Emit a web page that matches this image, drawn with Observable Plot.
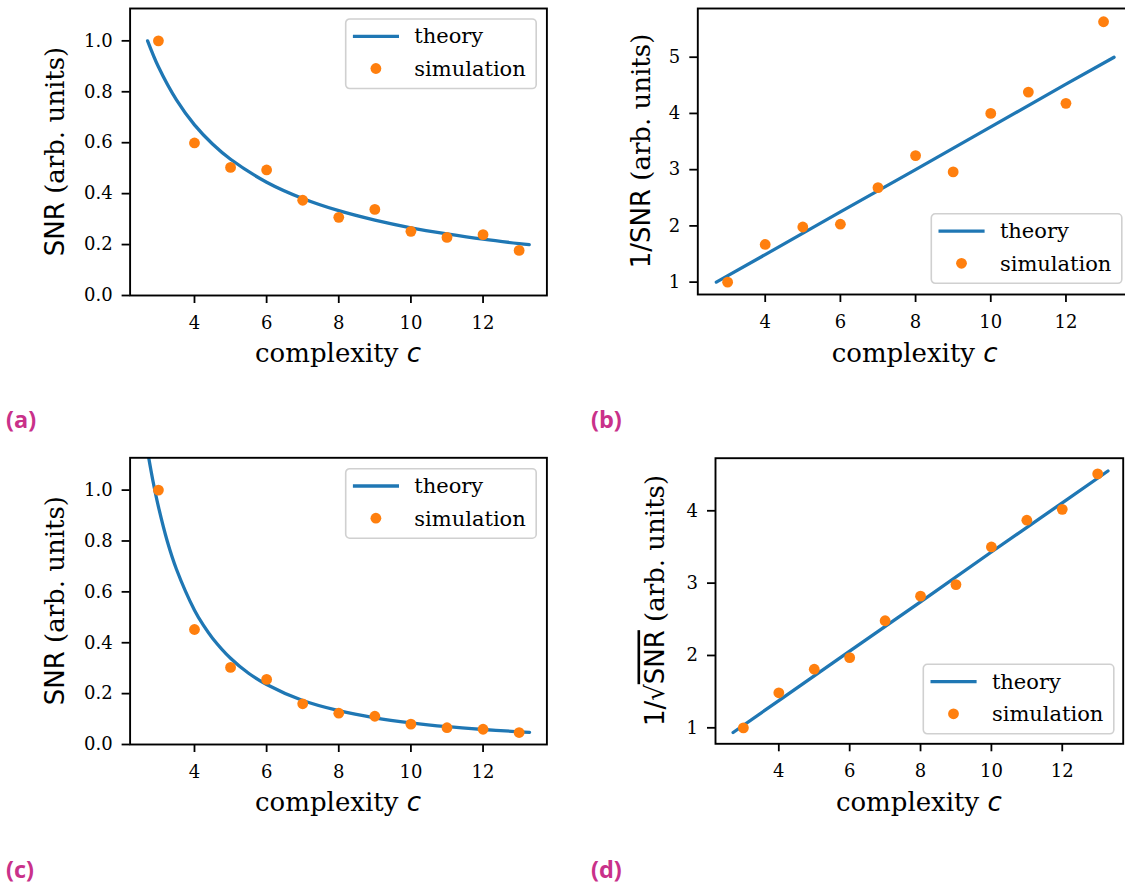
<!DOCTYPE html>
<html>
<head>
<meta charset="utf-8">
<script src="https://cdn.jsdelivr.net/npm/d3@7"></script>
<script src="https://cdn.jsdelivr.net/npm/@observablehq/plot@0.6"></script>
<style>
  html, body { margin: 0; padding: 0; background: #fff; }
  #page { position: relative; width: 1125px; height: 888px; overflow: hidden; background: #fff; }
  .panel { position: absolute; }
  .panel svg { overflow: visible; max-width: none !important; }
  .tag { position: absolute; font-family: "Open Sans", "DejaVu Sans", sans-serif; font-weight: 700; font-size: 23.5px; color: #c9318a; line-height: 1; }
</style>
</head>
<body>
<div id="page"></div>
<script>
// ---------------- data ----------------
const complexity = [3, 4, 5, 6, 7, 8, 9, 10, 11, 12, 13];

// (a) SNR
const snrSimA = [1.0, 0.599, 0.503, 0.493, 0.374, 0.307, 0.338, 0.252, 0.228, 0.239, 0.177];
const theoryCA = [2.70, 3, 3.5, 4, 4.5, 5, 6, 7, 8, 9, 10, 11, 12, 13, 13.28];
const snrTheoryA = [1.0, 0.898, 0.768, 0.670, 0.595, 0.535, 0.445, 0.381, 0.333, 0.296, 0.266, 0.242, 0.221, 0.204, 0.200];

// (b) 1/SNR
const invSnrSimB = [1.0, 1.67, 1.98, 2.03, 2.68, 3.25, 2.96, 4.0, 4.38, 4.18, 5.63];
const theoryCB = [2.70, 4, 6, 8, 10, 12, 13.28];
const invSnrTheoryB = [1.0, 1.49, 2.25, 3.0, 3.76, 4.52, 5.0];

// (c) SNR
const snrSimC = [1.0, 0.452, 0.303, 0.256, 0.160, 0.123, 0.111, 0.080, 0.066, 0.060, 0.047];
const theoryCC = [2.71, 2.85, 3, 3.25, 3.5, 4, 4.25, 4.5, 5, 5.5, 6, 7, 8, 9, 10, 11, 12, 13, 13.29];
const snrTheoryC = [1.144, 1.035, 0.935, 0.797, 0.689, 0.528, 0.468, 0.418, 0.339, 0.280, 0.236, 0.173, 0.133, 0.105, 0.085, 0.070, 0.059, 0.050, 0.048];

// (d) 1/sqrt(SNR)
const invSqrtSimD = [1.0, 1.484, 1.81, 1.97, 2.48, 2.82, 2.98, 3.50, 3.87, 4.02, 4.51];
const theoryCD = [2.71, 4, 6, 8, 10, 12, 13.29];
const invSqrtTheoryD = [0.935, 1.376, 2.06, 2.74, 3.43, 4.11, 4.55];

// ticks
const xTicks = [4, 6, 8, 10, 12];
const snrTicks = [0, 0.2, 0.4, 0.6, 0.8, 1.0];
const invSnrTicks = [1, 2, 3, 4, 5];
const invSqrtTicks = [1, 2, 3, 4];

const legendLabels = ["theory", "simulation"];
const panelTags = ["(a)", "(b)", "(c)", "(d)"];

// ---------------- drawing ----------------
const BLUE = "#1f77b4", ORANGE = "#ff7f0e";
const page = document.getElementById("page");

function zipXY(xs, ys) { return xs.map((x, i) => ({x, y: ys[i]})); }

function makePanel(cfg) {
  const sim = zipXY(complexity, cfg.simY);
  const theory = zipXY(cfg.theoryX, cfg.theoryY);
  const plot = Plot.plot({
    width: cfg.width, height: cfg.height,
    marginLeft: cfg.ml, marginRight: cfg.mr, marginTop: cfg.mt, marginBottom: cfg.mb,
    style: {fontFamily: "DejaVu Serif", fontSize: "18px", color: "#000", background: "transparent", overflow: "visible", maxWidth: "none"},
    x: {domain: cfg.xDomain},
    y: {domain: cfg.yDomain},
    marks: [
      Plot.axisX({ticks: xTicks, tickSize: 8, tickPadding: 12.5, strokeWidth: 1.8, label: null, tickFormat: d3.format("d"), fontSize: 18}),
      Plot.axisY({ticks: cfg.yTicks, tickSize: 8, tickPadding: 9.5, strokeWidth: 1.8, label: null, tickFormat: cfg.yFormat, fontSize: 18}),
      Plot.line(theory, {x: "x", y: "y", stroke: BLUE, strokeWidth: 3.3, curve: cfg.curve, clip: true}),
      Plot.dot(sim, {x: "x", y: "y", r: 5.4, fill: ORANGE, stroke: "none"}),
      Plot.frame({stroke: "#000", strokeWidth: 1.9})
    ]
  });
  const div = document.createElement("div");
  div.className = "panel";
  div.style.left = cfg.left + "px";
  div.style.top = cfg.top + "px";
  div.appendChild(plot);
  page.appendChild(div);

  const svg = d3.select(plot);
  // legend
  const lg = svg.append("g").attr("transform", `translate(${cfg.legend[0]},${cfg.legend[1]})`);
  lg.append("rect").attr("width", 190.5).attr("height", 69.5).attr("rx", 4)
    .attr("fill", "#fff").attr("fill-opacity", 0.8).attr("stroke", "#d0d0d0").attr("stroke-width", 1.6);
  lg.append("line").attr("x1", 7.2).attr("x2", 53.3).attr("y1", 17.3).attr("y2", 17.3)
    .attr("stroke", BLUE).attr("stroke-width", 3.3);
  lg.append("circle").attr("cx", 30.2).attr("cy", 49.5).attr("r", 5.4).attr("fill", ORANGE);
  lg.append("text").attr("x", 68.6).attr("y", 24.4).attr("text-anchor", "start").attr("font-family", "DejaVu Serif").attr("font-size", 21).attr("fill", "#000").text(legendLabels[0]);
  lg.append("text").attr("x", 68.6).attr("y", 57).attr("text-anchor", "start").attr("font-family", "DejaVu Serif").attr("font-size", 21).attr("fill", "#000").text(legendLabels[1]);

  // x label
  const fl = cfg.ml, fr = cfg.width - cfg.mr;
  const xl = svg.append("text").attr("x", (fl + fr) / 2).attr("y", cfg.xLabelY)
    .attr("text-anchor", "middle").attr("font-size", 26).attr("fill", "#000");
  xl.append("tspan").attr("font-family", "DejaVu Serif").text("complexity ");
  xl.append("tspan").attr("font-family", "DejaVu Sans").attr("font-style", "italic").text("c");

  // y label
  const ft = cfg.mt, fb = cfg.height - cfg.mb;
  const yc = (ft + fb) / 2;
  const yl = svg.append("text").attr("transform", `translate(${cfg.yLabelX},${yc}) rotate(-90)`)
    .attr("text-anchor", "middle").attr("font-size", 26).attr("fill", "#000");
  cfg.yLabel.forEach(p => {
    const t = yl.append("tspan").attr("font-family", p.sans ? "DejaVu Sans" : "DejaVu Serif").text(p.t);
    if (p.over) t.style("text-decoration", "overline");
  });

  // panel tag
  const tag = document.createElement("div");
  tag.className = "tag";
  tag.textContent = cfg.tag;
  tag.style.left = cfg.tagPos[0] + "px";
  tag.style.top = cfg.tagPos[1] + "px";
  page.appendChild(tag);
}

const fmt1 = d3.format(".1f");
const fmtD = d3.format("d");

makePanel({
  left: 0, top: 0, width: 560, height: 440, ml: 129.6, mr: 13.6, mt: 8, mb: 145,
  xDomain: [2.215, 13.77], yDomain: [0, 1.127], yTicks: snrTicks, yFormat: fmt1,
  simY: snrSimA, theoryX: theoryCA, theoryY: snrTheoryA, curve: "catmull-rom",
  legend: [345.7, 19], xLabelY: 361.7, yLabelX: 63.5,
  yLabel: [{t: "SNR", sans: true}, {t: " (arb. units)"}],
  tag: panelTags[0], tagPos: [6, 408]
});

makePanel({
  left: 560, top: 0, width: 580, height: 440, ml: 137.3, mr: 8, mt: 8, mb: 146,
  xDomain: [2.207, 13.77], yDomain: [0.78, 5.866], yTicks: invSnrTicks, yFormat: fmtD,
  simY: invSnrSimB, theoryX: theoryCB, theoryY: invSnrTheoryB, curve: "linear",
  legend: [371.3, 213.8], xLabelY: 361.7, yLabelX: 90,
  yLabel: [{t: "1/SNR", sans: true}, {t: " (arb. units)"}],
  tag: panelTags[1], tagPos: [591, 408]
});

makePanel({
  left: 0, top: 440, width: 560, height: 448, ml: 129.6, mr: 13.6, mt: 17.3, mb: 144,
  xDomain: [2.215, 13.77], yDomain: [0, 1.127], yTicks: snrTicks, yFormat: fmt1,
  simY: snrSimC, theoryX: theoryCC, theoryY: snrTheoryC, curve: "catmull-rom",
  legend: [345.7, 28.7], xLabelY: 371, yLabelX: 63.5,
  yLabel: [{t: "SNR", sans: true}, {t: " (arb. units)"}],
  tag: panelTags[2], tagPos: [6, 858]
});

makePanel({
  left: 560, top: 440, width: 565, height: 448, ml: 155, mr: 2.3, mt: 17.7, mb: 144.7,
  xDomain: [2.213, 13.72], yDomain: [0.779, 4.727], yTicks: invSqrtTicks, yFormat: fmtD,
  simY: invSqrtSimD, theoryX: theoryCD, theoryY: invSqrtTheoryD, curve: "linear",
  legend: [363.3, 224.3], xLabelY: 371, yLabelX: 103.5,
  yLabel: [{t: "1/√", sans: true}, {t: "SNR", sans: true, over: true}, {t: " (arb. units)"}],
  tag: panelTags[3], tagPos: [591, 858]
});
</script>
</body>
</html>
